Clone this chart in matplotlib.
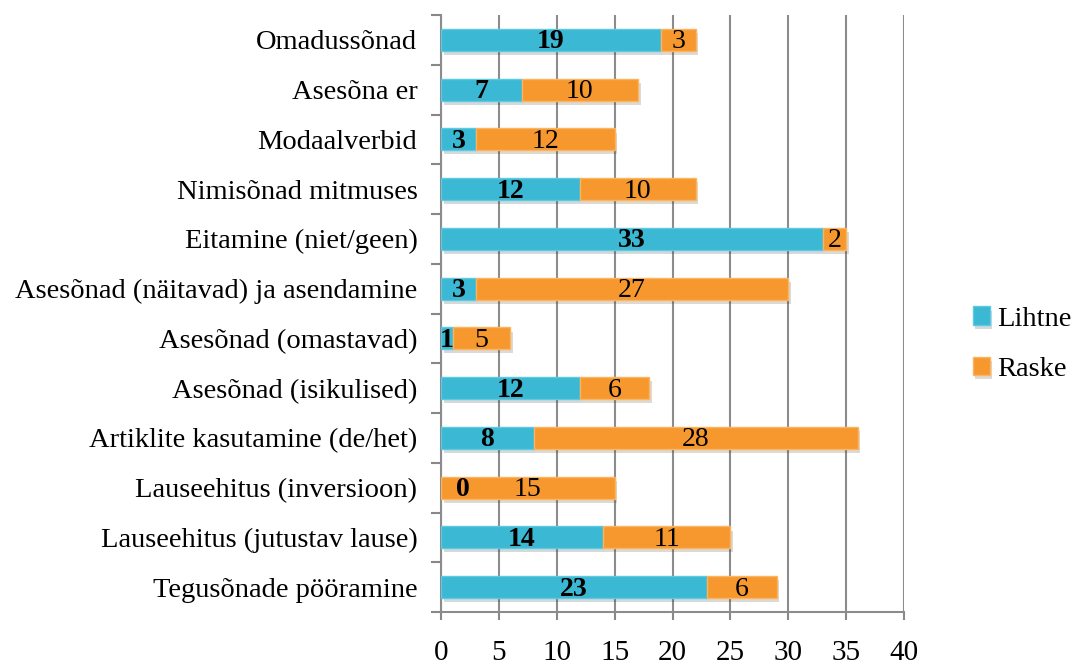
import matplotlib.pyplot as plt
import matplotlib.patheffects as pe

categories = ["Omadussõnad", "Asesõna er", "Modaalverbid", "Nimisõnad mitmuses",
              "Eitamine (niet/geen)", "Asesõnad (näitavad) ja asendamine",
              "Asesõnad (omastavad)", "Asesõnad (isikulised)",
              "Artiklite kasutamine (de/het)", "Lauseehitus (inversioon)",
              "Lauseehitus (jutustav lause)", "Tegusõnade pööramine"]
lihtne = [19, 7, 3, 12, 33, 3, 1, 12, 8, 0, 14, 23]
raske = [3, 10, 12, 10, 2, 27, 5, 6, 28, 15, 11, 6]

plt.rcParams['font.family'] = ['Liberation Serif', 'DejaVu Serif']

fig = plt.figure(figsize=(10.74, 6.66), dpi=100)
ax = fig.add_axes([441 / 1074, 54 / 666, 463 / 1074, 597 / 666])

y = list(range(len(categories)))[::-1]
shadow = [pe.SimplePatchShadow(offset=(2, -3), alpha=0.18), pe.Normal()]

b1 = ax.barh(y, lihtne, height=0.44, color="#3bb8d3", edgecolor="#5ccae0",
             linewidth=1, label="Lihtne", zorder=3)
b2 = ax.barh(y, raske, left=lihtne, height=0.44, color="#f7982f",
             edgecolor="#fbb45f", linewidth=1, label="Raske", zorder=3)
for bar in list(b1) + list(b2):
    bar.set_path_effects(shadow)

for yi, l, r in zip(y, lihtne, raske):
    ax.text(1.9 if l == 0 else l / 2, yi - 0.04, str(l), ha="center",
            va="center", fontsize=20, fontweight="bold", zorder=5)
    ax.text(l + r / 2, yi - 0.04, str(r), ha="center", va="center", fontsize=20, zorder=5)

ax.set_xlim(0, 40)
ax.set_ylim(-0.5, len(categories) - 0.5)
ax.set_xticks(range(0, 41, 5))
ax.set_yticks(y)
ax.set_yticklabels(categories, fontsize=20.5)
ax.set_yticks([v - 0.5 for v in range(len(categories) + 1)], minor=True)
ax.tick_params(axis="y", which="major", length=0, pad=17)
ax.tick_params(axis="y", which="minor", length=7, width=1.5, color="#888888")
ax.tick_params(axis="x", length=6, width=1.5, color="#888888", labelsize=21, pad=14)

ax.grid(axis="x", color="#8c8c8c", linewidth=1.5, zorder=0)
ax.set_axisbelow(True)
for side in ["top", "right"]:
    ax.spines[side].set_visible(False)
for side in ["left", "bottom"]:
    ax.spines[side].set_color("#8c8c8c")
    ax.spines[side].set_linewidth(1.5)

fig.legend(handles=[b1, b2], loc="center left", bbox_to_anchor=(947 / 1074, 0.483),
           frameon=False, fontsize=20.5, handlelength=0.6, handleheight=0.6,
           handletextpad=0.25, labelspacing=0.9)

fig.savefig("out.png", dpi=100)
